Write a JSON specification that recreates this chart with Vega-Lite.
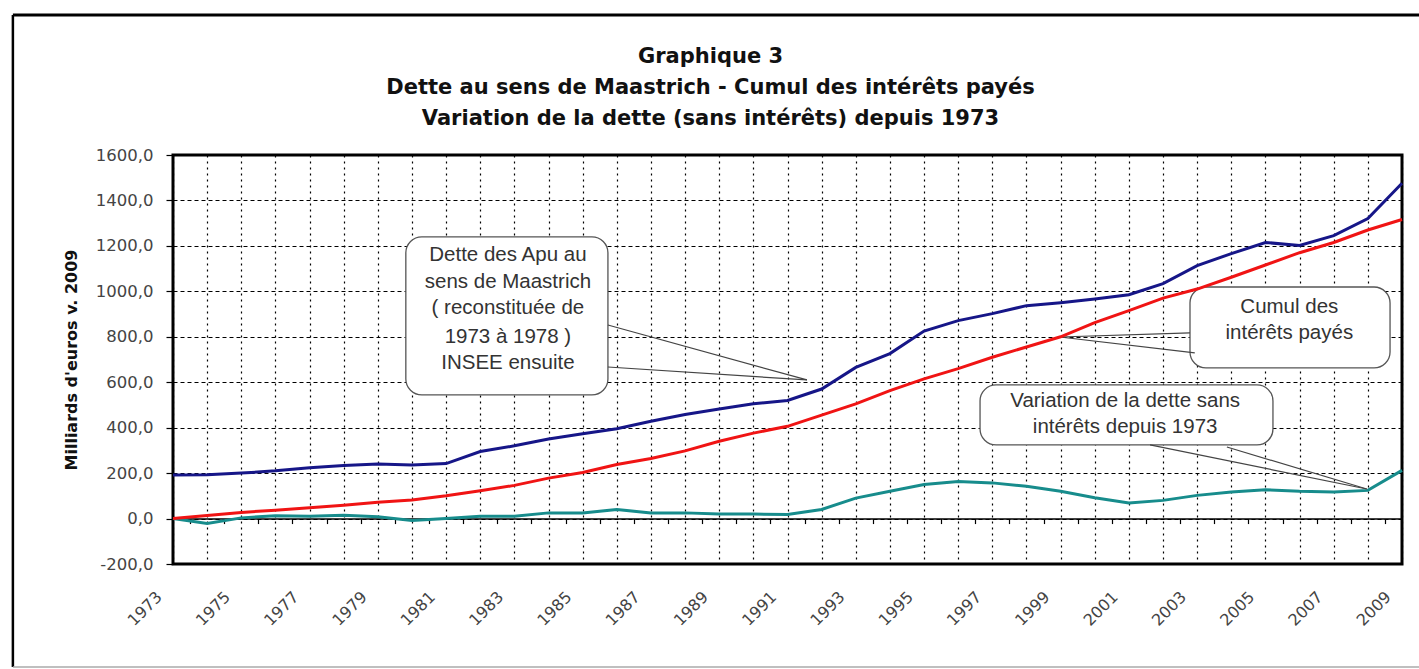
{
  "$schema": "https://vega.github.io/schema/vega-lite/v6.json",
  "autosize": {"type": "none"},
  "width": 1229,
  "height": 409,
  "padding": {"left": 173, "top": 155, "right": 17, "bottom": 105},
  "background": "white",
  "config": {
    "view": {"stroke": "#000", "strokeWidth": 3},
    "axis": {"labelFont": "DejaVu Sans", "titleFont": "DejaVu Sans"}
  },
  "title": {
    "text": ["Graphique 3", "Dette au sens de Maastrich - Cumul des intérêts payés", "Variation de la dette (sans intérêts) depuis 1973"],
    "font": "DejaVu Sans",
    "fontSize": 21,
    "fontWeight": "bold",
    "lineHeight": 31,
    "color": "#111",
    "anchor": "middle",
    "frame": "group",
    "dx": -77,
    "offset": -115
  },
  "datasets": {
    "series": [
      {"year": 1973, "dette": 192, "cumul": 0, "variation": 0},
      {"year": 1974, "dette": 193, "cumul": 13, "variation": -22},
      {"year": 1975, "dette": 200, "cumul": 27, "variation": 3},
      {"year": 1976, "dette": 210, "cumul": 37, "variation": 12},
      {"year": 1977, "dette": 224, "cumul": 48, "variation": 10},
      {"year": 1978, "dette": 233, "cumul": 59, "variation": 14},
      {"year": 1979, "dette": 240, "cumul": 72, "variation": 8},
      {"year": 1980, "dette": 236, "cumul": 82, "variation": -8},
      {"year": 1981, "dette": 242, "cumul": 100, "variation": 0},
      {"year": 1982, "dette": 295, "cumul": 122, "variation": 10},
      {"year": 1983, "dette": 320, "cumul": 146, "variation": 10},
      {"year": 1984, "dette": 350, "cumul": 178, "variation": 25},
      {"year": 1985, "dette": 373, "cumul": 203, "variation": 25},
      {"year": 1986, "dette": 395, "cumul": 238, "variation": 40},
      {"year": 1987, "dette": 428, "cumul": 264, "variation": 25},
      {"year": 1988, "dette": 458, "cumul": 298, "variation": 25},
      {"year": 1989, "dette": 482, "cumul": 340, "variation": 20},
      {"year": 1990, "dette": 505, "cumul": 376, "variation": 20},
      {"year": 1991, "dette": 520, "cumul": 406, "variation": 18},
      {"year": 1992, "dette": 570, "cumul": 455, "variation": 40},
      {"year": 1993, "dette": 665, "cumul": 505, "variation": 90},
      {"year": 1994, "dette": 726, "cumul": 563, "variation": 120},
      {"year": 1995, "dette": 825, "cumul": 615, "variation": 150},
      {"year": 1996, "dette": 871, "cumul": 660, "variation": 163},
      {"year": 1997, "dette": 902, "cumul": 710, "variation": 157},
      {"year": 1998, "dette": 937, "cumul": 755, "variation": 142},
      {"year": 1999, "dette": 950, "cumul": 800, "variation": 120},
      {"year": 2000, "dette": 966, "cumul": 862, "variation": 92},
      {"year": 2001, "dette": 985, "cumul": 915, "variation": 68},
      {"year": 2002, "dette": 1034, "cumul": 970, "variation": 80},
      {"year": 2003, "dette": 1113, "cumul": 1010, "variation": 102},
      {"year": 2004, "dette": 1166, "cumul": 1062, "variation": 117},
      {"year": 2005, "dette": 1215, "cumul": 1116, "variation": 127},
      {"year": 2006, "dette": 1202, "cumul": 1170, "variation": 120},
      {"year": 2007, "dette": 1245, "cumul": 1215, "variation": 117},
      {"year": 2008, "dette": 1320, "cumul": 1270, "variation": 124},
      {"year": 2009, "dette": 1476, "cumul": 1316, "variation": 212}
    ],
    "boxes": [
      {"xa": 1979.82, "xb": 1985.74, "ya": 1240, "yb": 544},
      {"xa": 2002.79, "xb": 2008.65, "ya": 1019, "yb": 663},
      {"xa": 1996.64, "xb": 2005.22, "ya": 588, "yb": 324}
    ],
    "pointers": [
      {"xa": 1985.74, "ya": 852, "xb": 1991.57, "yb": 610},
      {"xa": 1985.74, "ya": 667, "xb": 1991.57, "yb": 610},
      {"xa": 2002.79, "ya": 817, "xb": 1998.98, "yb": 799},
      {"xa": 2002.93, "ya": 729, "xb": 1998.98, "yb": 799},
      {"xa": 2001.62, "ya": 324, "xb": 2007.97, "yb": 130},
      {"xa": 2003.87, "ya": 315, "xb": 2007.97, "yb": 130}
    ],
    "notes": [
      {"x": 1982.81, "y": 1160, "text": "Dette des Apu au"},
      {"x": 1982.81, "y": 1043, "text": "sens de Maastrich"},
      {"x": 1982.81, "y": 925, "text": "( reconstituée de"},
      {"x": 1982.81, "y": 801, "text": "1973 à 1978 )"},
      {"x": 1982.81, "y": 684, "text": "INSEE ensuite"},
      {"x": 2005.7, "y": 932, "text": "Cumul des"},
      {"x": 2005.7, "y": 815, "text": "intérêts payés"},
      {"x": 2000.89, "y": 517, "text": "Variation de la dette sans"},
      {"x": 2000.89, "y": 403, "text": "intérêts depuis 1973"}
    ]
  },
  "resolve": {"axis": {"x": "independent", "y": "independent"}},
  "layer": [
    {
      "data": {"name": "series"},
      "mark": {"type": "line", "color": "#178c8c", "strokeWidth": 3},
      "encoding": {
        "x": {
          "field": "year", "type": "quantitative",
          "scale": {"domain": [1973, 2009], "nice": false, "zero": false},
          "axis": {
            "orient": "bottom",
            "values": [1973,1974,1975,1976,1977,1978,1979,1980,1981,1982,1983,1984,1985,1986,1987,1988,1989,1990,1991,1992,1993,1994,1995,1996,1997,1998,1999,2000,2001,2002,2003,2004,2005,2006,2007,2008,2009],
            "labelExpr": "datum.value % 2 == 1 ? '' + datum.value : ''",
            "labelAngle": -45, "labelAlign": "right", "labelBaseline": "middle",
            "labelFontSize": 16, "labelColor": "#444",
            "labelPadding": 30, "labelOffset": -14,
            "labelFlush": false, "labelOverlap": false, "labelBound": false,
            "ticks": false, "tickSize": 0, "domain": false,
            "grid": true, "gridDash": [2, 4], "gridColor": "#000", "gridWidth": 1.2,
            "title": null
          }
        },
        "y": {
          "field": "variation", "type": "quantitative",
          "scale": {"domain": [-200, 1600], "nice": false, "zero": false},
          "axis": {
            "orient": "left",
            "values": [-200, 0, 200, 400, 600, 800, 1000, 1200, 1400, 1600],
            "labelExpr": "datum.value + ',0'",
            "labelFontSize": 16.5, "labelColor": "#444", "labelPadding": 13,
            "tickSize": 7, "tickColor": "#000", "tickWidth": 1.2,
            "domain": false,
            "grid": true, "gridDash": [4, 3], "gridColor": "#000", "gridWidth": 1,
            "title": "Milliards d'euros v. 2009",
            "titleFontSize": 16, "titleFontWeight": "bold", "titleColor": "#111",
            "titlePadding": 16
          }
        }
      }
    },
    {
      "data": {"name": "boxes"},
      "mark": {"type": "rect", "fill": "white", "stroke": "#555", "strokeWidth": 1.3, "cornerRadius": 16},
      "encoding": {
        "x": {"field": "xa", "type": "quantitative", "axis": null},
        "x2": {"field": "xb"},
        "y": {"field": "ya", "type": "quantitative", "axis": null},
        "y2": {"field": "yb"}
      }
    },
    {
      "data": {"name": "pointers"},
      "mark": {"type": "rule", "color": "#444", "strokeWidth": 1.2},
      "encoding": {
        "x": {"field": "xa", "type": "quantitative", "axis": null},
        "x2": {"field": "xb"},
        "y": {"field": "ya", "type": "quantitative", "axis": null},
        "y2": {"field": "yb"}
      }
    },
    {
      "data": {"name": "notes"},
      "mark": {"type": "text", "font": "Liberation Sans", "fontSize": 20.5, "color": "#333", "align": "center", "baseline": "middle"},
      "encoding": {
        "x": {"field": "x", "type": "quantitative", "axis": null},
        "y": {"field": "y", "type": "quantitative", "axis": null},
        "text": {"field": "text"}
      }
    },
    {
      "data": {"name": "series"},
      "mark": {"type": "line", "color": "#f01414", "strokeWidth": 3},
      "encoding": {
        "x": {
          "field": "year", "type": "quantitative",
          "axis": {
            "orient": "bottom",
            "values": [1973.5,1974.5,1975.5,1976.5,1977.5,1978.5,1979.5,1980.5,1981.5,1982.5,1983.5,1984.5,1985.5,1986.5,1987.5,1988.5,1989.5,1990.5,1991.5,1992.5,1993.5,1994.5,1995.5,1996.5,1997.5,1998.5,1999.5,2000.5,2001.5,2002.5,2003.5,2004.5,2005.5,2006.5,2007.5,2008.5],
            "offset": -45.44,
            "labels": false, "grid": false,
            "domain": true, "domainColor": "#000", "domainWidth": 1.5,
            "ticks": true, "tickSize": 5, "tickColor": "#000", "tickWidth": 1.2,
            "title": null
          }
        },
        "y": {"field": "cumul", "type": "quantitative", "axis": null}
      }
    },
    {
      "data": {"name": "series"},
      "mark": {"type": "line", "color": "#161688", "strokeWidth": 3},
      "encoding": {
        "x": {"field": "year", "type": "quantitative", "axis": null},
        "y": {"field": "dette", "type": "quantitative", "axis": null}
      }
    },
    {
      "data": {"values": [{}]},
      "mark": {"type": "rule", "color": "#000", "strokeWidth": 3},
      "encoding": {
        "x": {"datum": 1968.31, "type": "quantitative", "axis": null},
        "x2": {"datum": 2009.6},
        "y": {"datum": 2216, "type": "quantitative", "axis": null}
      }
    },
    {
      "data": {"values": [{}]},
      "mark": {"type": "rule", "color": "#000", "strokeWidth": 2.5},
      "encoding": {
        "x": {"datum": 1968.31, "type": "quantitative", "axis": null},
        "y": {"datum": 2216, "type": "quantitative", "axis": null},
        "y2": {"datum": -653}
      }
    },
    {
      "data": {"values": [{}]},
      "mark": {"type": "rule", "color": "#aaa", "strokeWidth": 1.5},
      "encoding": {
        "x": {"datum": 1968.31, "type": "quantitative", "axis": null},
        "x2": {"datum": 2009.6},
        "y": {"datum": -653, "type": "quantitative", "axis": null}
      }
    }
  ]
}
